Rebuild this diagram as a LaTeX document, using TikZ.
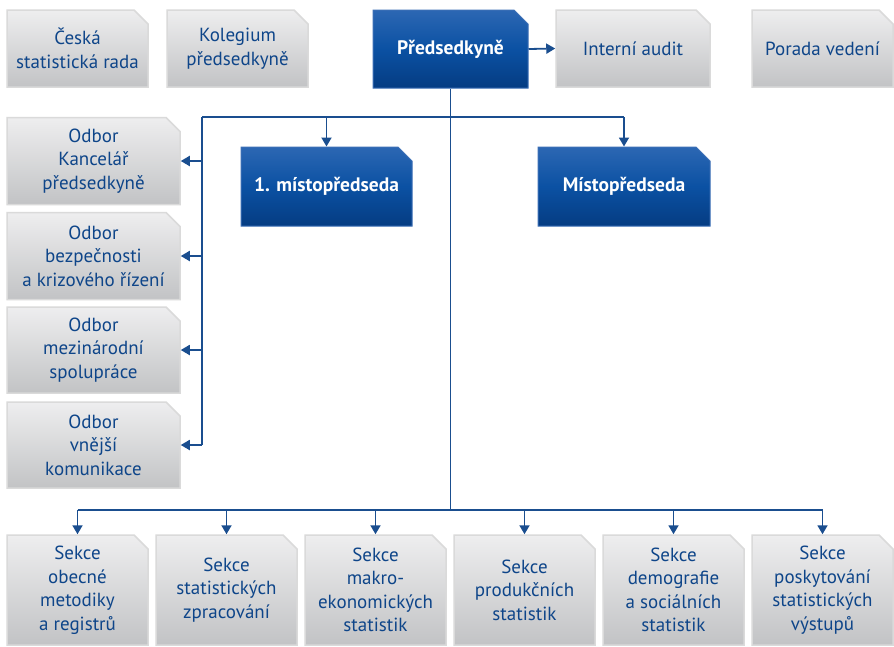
\documentclass[tikz,border=0pt]{standalone}
\usepackage{fontspec}
\setmainfont{PT Sans}
\usetikzlibrary{shapes.misc,arrows.meta}
\definecolor{txtblue}{HTML}{0E4589}
\definecolor{lineblue}{HTML}{1A4E8F}
\definecolor{gtop}{HTML}{EEEEEF}
\definecolor{gbot}{HTML}{C2C3C5}
\definecolor{gborder}{HTML}{DADADA}
\definecolor{btop}{HTML}{2C67B3}
\definecolor{bmid}{HTML}{0B51A3}
\definecolor{bbot}{HTML}{053C82}
\definecolor{bborder}{HTML}{3C6FB6}
\begin{document}
\begin{tikzpicture}[x=1pt,y=-1pt,
  box/.style={chamfered rectangle, chamfered rectangle corners=north east,
    chamfered rectangle xsep=7pt, chamfered rectangle ysep=7pt,
    inner sep=0pt, align=center, font=\fontsize{19}{23.5}\selectfont},
  greybox/.style={box, draw=gborder, line width=1.5pt, top color=gtop, bottom color=gbot, text=txtblue},
  bluebox/.style={box, draw=bborder, line width=1pt, top color=btop, bottom color=bbot, middle color=bmid, text=white, font=\fontsize{19.5}{23.5}\selectfont\bfseries},
  conn/.style={draw=lineblue, line width=1.8pt},
  arr/.style={conn, -{Triangle[length=9pt,width=10pt]}}
]
\useasboundingbox[fill=white] (0,0) rectangle (894,646);

% top row
\node[greybox, minimum width=141pt, minimum height=77pt] (ceska) at (77.5,48.5) {Česká\\statistická rada};
\node[greybox, minimum width=141pt, minimum height=77pt] (kolegium) at (237.5,48.5) {Kolegium\\předsedkyně};
\node[bluebox, minimum width=155pt, minimum height=78pt] (pred) at (450.5,49) {Předsedkyně};
\node[greybox, minimum width=154pt, minimum height=77pt] (audit) at (633,48.5) {Interní audit};
\node[greybox, minimum width=141pt, minimum height=77pt] (porada) at (822.5,48.5) {Porada vedení};

% vice chairs
\node[bluebox, minimum width=171pt, minimum height=79pt] (m1) at (326.5,186.5) {1. místopředseda};
\node[bluebox, minimum width=172pt, minimum height=79pt] (m2) at (624,186.5) {Místopředseda};

% left column
\node[greybox, minimum width=173pt, minimum height=87pt] (o1) at (93.5,161) {Odbor\\Kancelář\\předsedkyně};
\node[greybox, minimum width=173pt, minimum height=87pt] (o2) at (93.5,256) {Odbor\\bezpečnosti\\a krizového řízení};
\node[greybox, minimum width=173pt, minimum height=86pt] (o3) at (93.5,350) {Odbor\\mezinárodní\\spolupráce};
\node[greybox, minimum width=173pt, minimum height=86pt] (o4) at (93.5,445) {Odbor\\vnější\\komunikace};

% bottom row
\node[greybox, minimum width=141pt, minimum height=110pt] (s1) at (77.5,590) {Sekce\\obecné\\metodiky\\a registrů};
\node[greybox, minimum width=141pt, minimum height=110pt] (s2) at (226.5,590) {Sekce\\statistických\\zpracování};
\node[greybox, minimum width=141pt, minimum height=110pt] (s3) at (375.5,590) {Sekce\\makro-\\ekonomických\\statistik};
\node[greybox, minimum width=141pt, minimum height=110pt] (s4) at (524.5,590) {Sekce\\produkčních\\statistik};
\node[greybox, minimum width=141pt, minimum height=110pt] (s5) at (673.5,590) {Sekce\\demografie\\a sociálních\\statistik};
\node[greybox, minimum width=141pt, minimum height=110pt] (s6) at (822.5,590) {Sekce\\poskytování\\statistických\\výstupů};

% bus coordinates
\coordinate (busTop) at (0,117);
\coordinate (busBot) at (0,510);
\coordinate (leftX) at (202,0);

% connectors
\draw[arr] (pred.east) -- (audit.west);
\draw[conn] (pred.south) -- (pred.south |- busBot);
\draw[conn] (leftX |- busTop) -- (m2.north |- busTop);
\draw[arr] (m1.north |- busTop) -- (m1.north);
\draw[arr] (m2.north |- busTop) -- (m2.north);
\draw[conn] (leftX |- busTop) -- (leftX |- o4.east);
\foreach \o in {o1,o2,o3,o4}{
  \draw[arr] (leftX |- \o.east) -- (\o.east);
}
\draw[conn] (s1.north |- busBot) -- (s6.north |- busBot);
\foreach \s in {s1,s2,s3,s4,s5,s6}{
  \draw[arr] (\s.north |- busBot) -- (\s.north);
}
\end{tikzpicture}
\end{document}
